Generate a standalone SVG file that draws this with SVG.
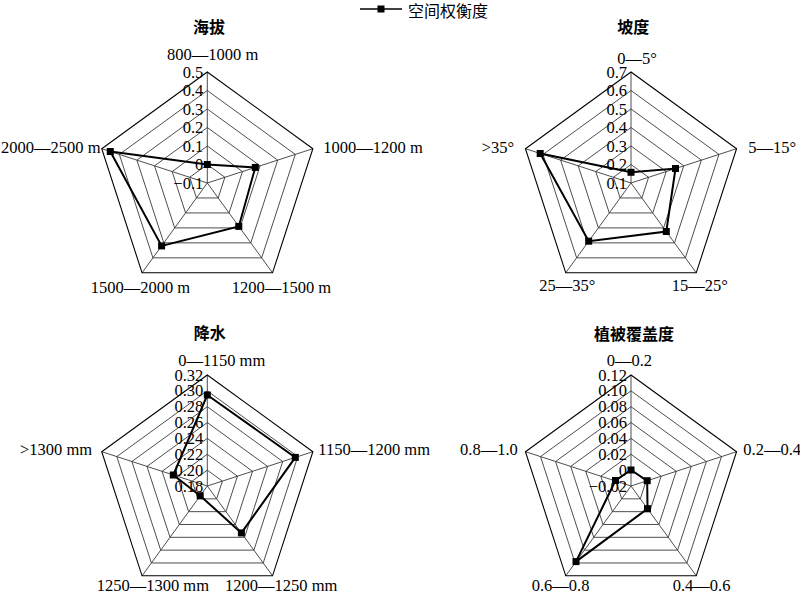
<svg xmlns="http://www.w3.org/2000/svg" xmlns:xlink="http://www.w3.org/1999/xlink" width="800" height="593" viewBox="0 0 800 593">
<style>
.ring{fill:none;stroke:#3a3a3a;stroke-width:0.9}
.outer{fill:none;stroke:#000;stroke-width:1.1}
.spoke{stroke:#3a3a3a;stroke-width:0.9}
.data{fill:none;stroke:#000;stroke-width:2;stroke-linejoin:miter}
.t{font-family:"Liberation Serif","Times New Roman",serif;font-size:16.5px;fill:#000}
.tk{font-family:"Liberation Serif","Times New Roman",serif;font-size:16.5px;fill:#000;text-anchor:end}
.ttl{font-family:"Noto Sans CJK SC",sans-serif;font-size:16px;font-weight:bold;fill:#000;text-anchor:middle}
.lg{font-family:"Noto Sans CJK SC",sans-serif;font-size:16px;fill:#000}
</style>
<defs>
<rect id="mk" x="-3.5" y="-3.5" width="7" height="7" fill="#000"/>
<g id="grid6">
<polygon class="ring" points="0,-18.5 17.59,-5.72 10.87,14.97 -10.87,14.97 -17.59,-5.72"/>
<polygon class="ring" points="0,-37 35.19,-11.43 21.75,29.93 -21.75,29.93 -35.19,-11.43"/>
<polygon class="ring" points="0,-55.5 52.78,-17.15 32.62,44.9 -32.62,44.9 -52.78,-17.15"/>
<polygon class="ring" points="0,-74 70.38,-22.87 43.5,59.87 -43.5,59.87 -70.38,-22.87"/>
<polygon class="ring" points="0,-92.5 87.97,-28.58 54.37,74.83 -54.37,74.83 -87.97,-28.58"/>
<line class="spoke" x1="0" y1="0" x2="0" y2="-111"/>
<line class="spoke" x1="0" y1="0" x2="105.57" y2="-34.3"/>
<line class="spoke" x1="0" y1="0" x2="65.24" y2="89.8"/>
<line class="spoke" x1="0" y1="0" x2="-65.24" y2="89.8"/>
<line class="spoke" x1="0" y1="0" x2="-105.57" y2="-34.3"/>
<polygon class="outer" points="0,-111 105.57,-34.3 65.24,89.8 -65.24,89.8 -105.57,-34.3"/>
</g>
<g id="grid7">
<polygon class="ring" points="0,-15.86 15.08,-4.9 9.32,12.83 -9.32,12.83 -15.08,-4.9"/>
<polygon class="ring" points="0,-31.71 30.16,-9.8 18.64,25.66 -18.64,25.66 -30.16,-9.8"/>
<polygon class="ring" points="0,-47.57 45.24,-14.7 27.96,38.49 -27.96,38.49 -45.24,-14.7"/>
<polygon class="ring" points="0,-63.43 60.32,-19.6 37.28,51.32 -37.28,51.32 -60.32,-19.6"/>
<polygon class="ring" points="0,-79.29 75.41,-24.5 46.6,64.14 -46.6,64.14 -75.41,-24.5"/>
<polygon class="ring" points="0,-95.14 90.49,-29.4 55.92,76.97 -55.92,76.97 -90.49,-29.4"/>
<line class="spoke" x1="0" y1="0" x2="0" y2="-111"/>
<line class="spoke" x1="0" y1="0" x2="105.57" y2="-34.3"/>
<line class="spoke" x1="0" y1="0" x2="65.24" y2="89.8"/>
<line class="spoke" x1="0" y1="0" x2="-65.24" y2="89.8"/>
<line class="spoke" x1="0" y1="0" x2="-105.57" y2="-34.3"/>
<polygon class="outer" points="0,-111 105.57,-34.3 65.24,89.8 -65.24,89.8 -105.57,-34.3"/>
</g>
</defs>
<rect width="800" height="593" fill="#fff"/>

<g id="legend">
<line x1="360" y1="9" x2="402" y2="9" stroke="#000" stroke-width="1.5"/>
<use xlink:href="#mk" x="381" y="9"/>
<text class="lg" x="408" y="16.5">空间权衡度</text>
</g>

<g id="chart-altitude">
<text class="ttl" x="209" y="32.5">海拔</text>
<use xlink:href="#grid6" transform="translate(207.3,183)"/>
<text class="tk" x="203.3" y="188.5">−0.1</text>
<text class="tk" x="203.3" y="170">0</text>
<text class="tk" x="203.3" y="151.5">0.1</text>
<text class="tk" x="203.3" y="133">0.2</text>
<text class="tk" x="203.3" y="114.5">0.3</text>
<text class="tk" x="203.3" y="96">0.4</text>
<text class="tk" x="203.3" y="77.5">0.5</text>
<text class="t" x="167" y="59.5">800—1000 m</text>
<text class="t" x="323.3" y="153">1000—1200 m</text>
<text class="t" x="231.7" y="292.5">1200—1500 m</text>
<text class="t" x="90.7" y="292.5">1500—2000 m</text>
<text class="t" x="1" y="153">2000—2500 m</text>
</g>

<g id="chart-slope">
<text class="ttl" x="633.3" y="33">坡度</text>
<use xlink:href="#grid6" transform="translate(631,183)"/>
<text class="tk" x="627" y="188.5">0.1</text>
<text class="tk" x="627" y="170">0.2</text>
<text class="tk" x="627" y="151.5">0.3</text>
<text class="tk" x="627" y="133">0.4</text>
<text class="tk" x="627" y="114.5">0.5</text>
<text class="tk" x="627" y="96">0.6</text>
<text class="tk" x="627" y="77.5">0.7</text>
<text class="t" x="617.3" y="64">0—5°</text>
<text class="t" x="748.3" y="153">5—15°</text>
<text class="t" x="671.7" y="290.5">15—25°</text>
<text class="t" x="539.3" y="290.5">25—35°</text>
<text class="t" x="481.7" y="153">&gt;35°</text>
</g>

<g id="chart-precipitation">
<text class="ttl" x="209.7" y="339">降水</text>
<use xlink:href="#grid7" transform="translate(207.3,486)"/>
<text class="tk" x="203.3" y="491.5">0.18</text>
<text class="tk" x="203.3" y="475.6">0.20</text>
<text class="tk" x="203.3" y="459.8">0.22</text>
<text class="tk" x="203.3" y="443.9">0.24</text>
<text class="tk" x="203.3" y="428.1">0.26</text>
<text class="tk" x="203.3" y="412.2">0.28</text>
<text class="tk" x="203.3" y="396.4">0.30</text>
<text class="tk" x="203.3" y="380.5">0.32</text>
<text class="t" x="178.3" y="365.5">0—1150 mm</text>
<text class="t" x="318.3" y="455">1150—1200 mm</text>
<text class="t" x="225" y="590.5">1200—1250 mm</text>
<text class="t" x="96.7" y="590.5">1250—1300 mm</text>
<text class="t" x="20" y="455">&gt;1300 mm</text>
</g>

<g id="chart-vegetation">
<text class="ttl" x="634" y="340">植被覆盖度</text>
<use xlink:href="#grid7" transform="translate(631,486)"/>
<text class="tk" x="627" y="491.5">−0.02</text>
<text class="tk" x="627" y="475.6">0</text>
<text class="tk" x="627" y="459.8">0.02</text>
<text class="tk" x="627" y="443.9">0.04</text>
<text class="tk" x="627" y="428.1">0.06</text>
<text class="tk" x="627" y="412.2">0.08</text>
<text class="tk" x="627" y="396.4">0.10</text>
<text class="tk" x="627" y="380.5">0.12</text>
<text class="t" x="606.7" y="365.5">0—0.2</text>
<text class="t" x="743.3" y="455">0.2—0.4</text>
<text class="t" x="672.7" y="590.5">0.4—0.6</text>
<text class="t" x="531.7" y="590.5">0.6—0.8</text>
<text class="t" x="460" y="455">0.8—1.0</text>
</g>

<g id="connectors">
<polygon class="data" points="207.3,164.5 255.3,167.4 238.8,226.4 161.6,245.9 110.3,151.5"/>
<polygon class="data" points="631,172.3 675.5,168.5 666.3,231.5 588.7,241.2 540.2,153.5"/>
<polygon class="data" points="207.3,395 295.3,457.4 241.4,532.9 200.2,495.7 173.3,475"/>
<polygon class="data" points="631,470 647.2,480.7 647.5,508.7 576,561.6 615.5,480.5"/>
</g>

<g id="markers">
<use xlink:href="#mk" x="207.3" y="164.5"/><use xlink:href="#mk" x="255.3" y="167.4"/><use xlink:href="#mk" x="238.8" y="226.4"/><use xlink:href="#mk" x="161.6" y="245.9"/><use xlink:href="#mk" x="110.3" y="151.5"/>
<use xlink:href="#mk" x="631" y="172.3"/><use xlink:href="#mk" x="675.5" y="168.5"/><use xlink:href="#mk" x="666.3" y="231.5"/><use xlink:href="#mk" x="588.7" y="241.2"/><use xlink:href="#mk" x="540.2" y="153.5"/>
<use xlink:href="#mk" x="207.3" y="395"/><use xlink:href="#mk" x="295.3" y="457.4"/><use xlink:href="#mk" x="241.4" y="532.9"/><use xlink:href="#mk" x="200.2" y="495.7"/><use xlink:href="#mk" x="173.3" y="475"/>
<use xlink:href="#mk" x="631" y="470"/><use xlink:href="#mk" x="647.2" y="480.7"/><use xlink:href="#mk" x="647.5" y="508.7"/><use xlink:href="#mk" x="576" y="561.6"/><use xlink:href="#mk" x="615.5" y="480.5"/>
</g>
</svg>
